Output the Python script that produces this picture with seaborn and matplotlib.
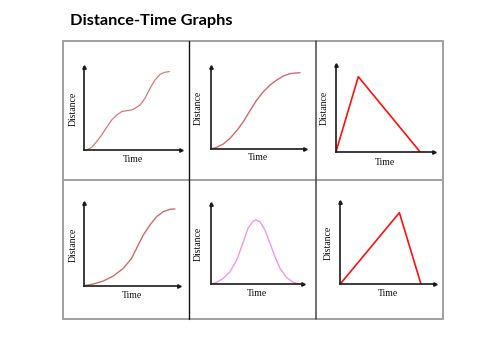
import matplotlib
matplotlib.use("Agg")
import matplotlib.pyplot as plt
from matplotlib.lines import Line2D
import seaborn as sns
import pandas as pd

sns.set_style("white")

W, H = 500, 346

title = "Distance-Time Graphs"
x_label = "Time"
y_label = "Distance"

# Curves (time, distance on a 0-10 scale of each axis)
p1_t = [0.24, 0.76, 1.28, 1.80, 2.32, 2.84, 3.36, 3.88, 4.39, 4.91, 5.26, 5.78, 6.30, 6.82, 7.34, 7.85, 8.37, 8.82]
p1_d = [0.00, 0.32, 1.01, 1.81, 2.74, 3.63, 4.23, 4.64, 4.76, 4.84, 5.04, 5.44, 6.25, 7.46, 8.47, 9.15, 9.40, 9.48]

p2_t = [0.00, 0.64, 1.34, 2.05, 2.76, 3.46, 4.17, 4.88, 5.58, 6.29, 7.00, 7.70, 8.41, 8.94, 9.47]
p2_d = [0.00, 0.20, 0.61, 1.30, 2.23, 3.32, 4.66, 5.95, 6.96, 7.77, 8.38, 8.87, 9.15, 9.23, 9.27]

p3_t = [0.00, 2.27, 8.54]
p3_d = [0.00, 8.65, 0.00]

p4_t = [0.00, 0.95, 2.00, 3.05, 4.11, 4.98, 5.68, 6.21, 6.91, 7.61, 8.32, 9.02, 9.54]
p4_d = [0.00, 0.20, 0.57, 1.17, 2.11, 3.32, 4.94, 6.15, 7.37, 8.38, 8.99, 9.27, 9.31]

p5_t = [0.00, 0.65, 1.37, 2.09, 2.81, 3.53, 4.06, 4.60, 4.89, 5.32, 5.86, 6.40, 6.94, 7.48, 8.20, 8.92, 9.64]
p5_d = [0.00, 0.25, 0.75, 1.58, 3.04, 5.33, 7.08, 7.92, 8.04, 7.83, 6.79, 5.13, 3.46, 2.00, 0.83, 0.25, 0.00]

p6_t = [0.00, 6.25, 8.53]
p6_d = [0.00, 8.67, 0.00]

panels = [
    # (times, distances, colour, lw, origin_x, origin_y, top_y, end_x, ylab_x, xlab_y)
    (p1_t, p1_d, "#d9787a", 0.9, 84.3, 150.0, 67.3, 180.7, 73, 159),
    (p2_t, p2_d, "#d06a6a", 1.0, 210.7, 149.0, 66.7, 305.0, 198, 158),
    (p3_t, p3_d, "#ff1010", 1.2, 336.0, 151.7, 65.0, 434.3, 324, 162),
    (p4_t, p4_d, "#d06a6a", 1.0, 84.3, 285.7, 203.3, 179.3, 73, 295),
    (p5_t, p5_d, "#f39ad6", 1.0, 210.7, 284.3, 204.3, 303.3, 198, 293),
    (p6_t, p6_d, "#ff1010", 1.2, 340.0, 284.3, 201.7, 435.0, 328, 294),
]

fig = plt.figure(figsize=(W / 100, H / 100), dpi=100)
fig.patch.set_facecolor("white")

for (ts, ds, col, lw, ox, oy, ty, ex, ylx, xly) in panels:
    ax = fig.add_axes([ox / W, 1 - oy / H, (ex - ox) / W, (oy - ty) / H])
    df = pd.DataFrame({"t": ts, "d": ds})
    sns.lineplot(data=df, x="t", y="d", ax=ax, color=col, linewidth=lw,
                 sort=False, estimator=None)
    ax.set_xlim(0, 10)
    ax.set_ylim(0, 10)
    ax.set_facecolor("none")
    ax.set_xticks([])
    ax.set_yticks([])
    ax.set_xlabel("")
    ax.set_ylabel("")
    for s in ["top", "right"]:
        ax.spines[s].set_visible(False)
    for s in ["left", "bottom"]:
        ax.spines[s].set_color("#1a1a1a")
        ax.spines[s].set_linewidth(1.2)
    ax.plot(1, 0, ">", color="#1a1a1a", ms=2.5, transform=ax.transAxes, clip_on=False)
    ax.plot(0, 1, "^", color="#1a1a1a", ms=2.5, transform=ax.transAxes, clip_on=False)
    cx = (ox + ex) / 2
    cy = (oy + ty) / 2
    fig.text(cx / W, 1 - xly / H, x_label, ha="center", va="center",
             fontsize=7, family="Liberation Serif", color="#111111")
    fig.text(ylx / W, 1 - cy / H, y_label, ha="center", va="center", rotation=90,
             fontsize=7, family="Liberation Serif", color="#111111")

# Title
fig.text(70 / W, 1 - 20.5 / H, title, ha="left", va="center", fontsize=11.8,
         fontweight="bold", family="Lato", color="black")

# Table borders
grey = "#a0a0a0"
L, R, T, B = 62.5, 442.5, 41.0, 319.0
def hline(y, x0, x1, c, lw):
    fig.add_artist(Line2D([x0 / W, x1 / W], [1 - y / H, 1 - y / H], color=c, lw=lw))
def vline(x, y0, y1, c, lw):
    fig.add_artist(Line2D([x / W, x / W], [1 - y0 / H, 1 - y1 / H], color=c, lw=lw))

hline(T, L, R, grey, 1.4)
hline(179.5, L, R, grey, 1.4)
hline(B, L, R, grey, 1.4)
vline(L, T, B, grey, 1.4)
vline(R, T, B, grey, 1.4)
vline(188.8, T, B, "#111111", 1.0)
vline(316.0, T, B, "#555555", 1.2)

fig.savefig("out.png", dpi=100, facecolor="white")
